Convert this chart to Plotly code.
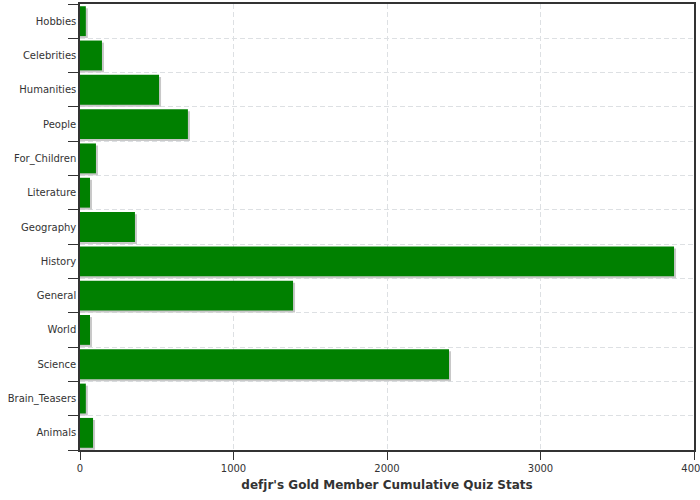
import plotly.graph_objects as go

categories = ["Animals", "Brain_Teasers", "Science", "World", "General", "History",
              "Geography", "Literature", "For_Children", "People", "Humanities",
              "Celebrities", "Hobbies"]
values = [85, 38, 2404, 65, 1388, 3870, 358, 65, 104, 703, 515, 143, 38]
x_ticks = [0, 1000, 2000, 3000, 4000]

bar_w = 0.87
shadow_dx = 13       # about 2 px in data units
shadow_dy = 0.06     # about 2 px in category units

fig = go.Figure()
fig.add_trace(go.Bar(
    y=categories, x=[v + shadow_dx for v in values], orientation="h",
    width=bar_w, offset=-bar_w / 2 - shadow_dy,
    marker=dict(color="#c8c8c8", line=dict(width=0)),
    hoverinfo="skip", showlegend=False))
fig.add_trace(go.Bar(
    y=categories, x=values, orientation="h",
    width=bar_w, offset=-bar_w / 2,
    marker=dict(color="#008000", line=dict(width=0)),
    showlegend=False))

fig.update_layout(
    width=700, height=500, barmode="overlay",
    margin=dict(l=80, r=6, t=4, b=50),
    plot_bgcolor="white", paper_bgcolor="white",
    font=dict(family="DejaVu Sans", size=10, color="#333333"),
    xaxis=dict(
        range=[0, 4000], tickvals=x_ticks, ticks="outside", ticklen=8,
        tickcolor="#333333", showline=True, linecolor="#333333", linewidth=1.5,
        mirror=True, showgrid=True, gridcolor="#dde0e3", griddash="5px,3px",
        gridwidth=1, zeroline=False, tickfont=dict(size=10), automargin=False,
        ticklabeloverflow="allow",
        title=dict(text="<b>defjr's Gold Member Cumulative Quiz Stats</b>",
                   font=dict(size=12, color="#333333"), standoff=8)),
    yaxis=dict(
        categoryorder="array", categoryarray=categories,
        range=[-0.5, len(categories) - 0.5],
        ticks="outside", ticklen=10, tickcolor="#333333", tickson="boundaries",
        showline=True, linecolor="#333333", linewidth=1.5, mirror=True,
        showgrid=True, gridcolor="#dde0e3", griddash="5px,3px", gridwidth=1,
        zeroline=False, tickfont=dict(size=10), automargin=False),
)

fig.write_html("out.html",
               config={"displayModeBar": False},
               post_script="document.body.style.margin='0';"
                           "document.body.style.overflow='hidden';")
